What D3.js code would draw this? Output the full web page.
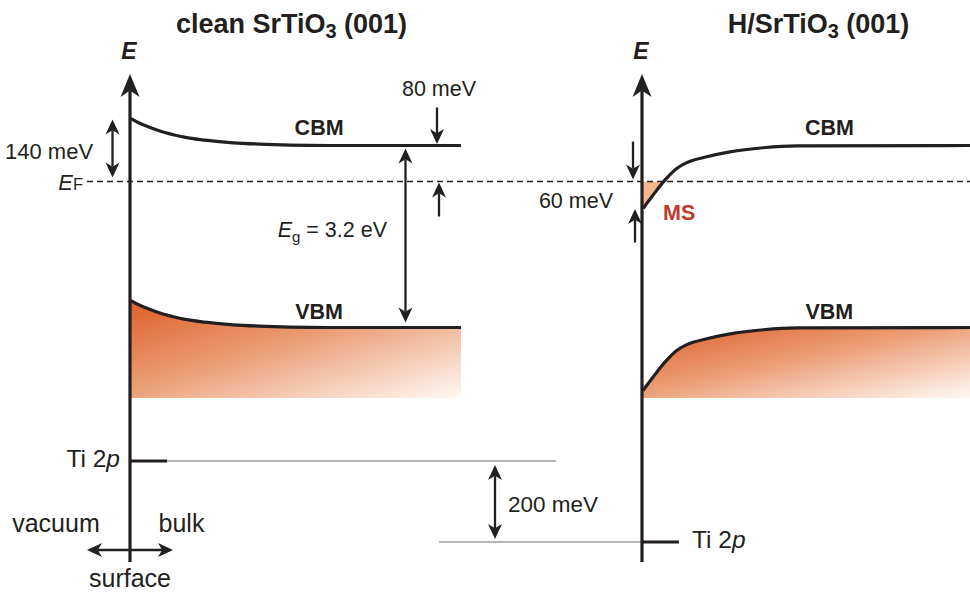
<!DOCTYPE html>
<html>
<head>
<meta charset="utf-8">
<script src="https://cdn.jsdelivr.net/npm/d3@7"></script>
<style>
  html, body { margin: 0; padding: 0; background: #fff; }
  svg { display: block; font-family: "Liberation Sans", Arial, Helvetica, sans-serif; }
</style>
</head>
<body>
<svg id="chart" width="970" height="592"></svg>
<script>
// ---- data -------------------------------------------------------------
// Panel titles, split so the "3" of the formula can be set as a subscript
const panelTitles = [["clean SrTiO", "3", " (001)"], ["H/SrTiO", "3", " (001)"]];

// Depth into the crystal (0 = surface, 1 = bulk end of the sketch)
const cleanDepth = [0, 0.025, 0.058, 0.09, 0.128, 0.165, 0.21, 0.26, 0.31, 0.41, 0.48, 0.6, 1];
// Conduction band minimum relative to E_F (meV), clean surface: upward bending
const cleanCBM = [140, 130, 120, 111.5, 104, 98, 93, 89, 86, 82.5, 81, 80, 80];

const hDepth = [0, 0.031, 0.067, 0.103, 0.134, 0.195, 0.266, 0.368, 0.47, 1];
// Conduction band minimum relative to E_F (meV), H-covered surface: downward bending
const hCBM = [-60, -30, 3, 29, 42, 55, 66, 75, 79, 80];

const bandGap = 3200;          // meV (E_g = 3.2 eV)
const ti2pShift = [0, -200];   // meV, Ti 2p core level: clean vs H-covered

// ---- layout -----------------------------------------------------------
const svg = d3.select("#chart");
const ink = "#231f20";

const xClean = d3.scaleLinear().domain([0, 1]).range([131, 461]);
const xH = d3.scaleLinear().domain([0, 1]).range([643, 970]);

// Conduction-band region of the energy axis
const yCB = d3.scaleLinear().domain([0, 140]).range([181.5, 118.5]);
// Valence-band region: same meV per pixel, axis broken across the gap
const vbmBulk = cleanCBM[cleanCBM.length - 1] - bandGap;
const yVB = d3.scaleLinear().domain([vbmBulk, vbmBulk + 140]).range([327.5, 264.5]);
// Core-level region
const yCore = d3.scaleLinear().domain([0, -200]).range([461, 542]);

const bandFloor = 398;   // lower edge of the shaded valence band
const axisTop = 74, axisBottom = 562;

const panels = [
  { x: xClean, depth: cleanDepth, cbm: cleanCBM, title: panelTitles[0], tcx: 291.5, gid: "vbClean" },
  { x: xH, depth: hDepth, cbm: hCBM, title: panelTitles[1], tcx: 818.5, gid: "vbH" }
];
panels.forEach(p => { p.pts = p.depth.map((d, i) => ({ d, e: p.cbm[i] })); });

// ---- gradients --------------------------------------------------------
const defs = svg.append("defs");
panels.forEach(p => {
  const g = defs.append("linearGradient").attr("id", p.gid)
    .attr("x1", 0).attr("y1", 0).attr("x2", 1).attr("y2", 1);
  g.append("stop").attr("offset", 0).attr("stop-color", "#df5f29");
  g.append("stop").attr("offset", 0.45).attr("stop-color", "#eb9d74");
  g.append("stop").attr("offset", 1).attr("stop-color", "#fff9f5");
});
defs.append("clipPath").attr("id", "belowEF")
  .append("rect").attr("x", 0).attr("y", yCB(0)).attr("width", 970).attr("height", 200);

// ---- arrows -----------------------------------------------------------
function arrow(x1, y1, x2, y2, o = {}) {
  const len = o.len || 15, half = o.half || 7, both = !!o.both, w = o.width || 2.3;
  const dx = x2 - x1, dy = y2 - y1, L = Math.hypot(dx, dy);
  const ux = dx / L, uy = dy / L, px = -uy, py = ux;
  const head = (tx, ty, vx, vy) =>
    `M${tx},${ty}L${tx - vx * len + px * half},${ty - vy * len + py * half}` +
    `L${tx - vx * len * 0.72},${ty - vy * len * 0.72}` +
    `L${tx - vx * len - px * half},${ty - vy * len - py * half}Z`;
  const g = svg.append("g");
  const sx = both ? x1 + ux * len * 0.72 : x1, sy = both ? y1 + uy * len * 0.72 : y1;
  g.append("line").attr("x1", sx).attr("y1", sy)
    .attr("x2", x2 - ux * len * 0.72).attr("y2", y2 - uy * len * 0.72)
    .attr("stroke", ink).attr("stroke-width", w);
  g.append("path").attr("d", head(x2, y2, ux, uy)).attr("fill", ink);
  if (both) g.append("path").attr("d", head(x1, y1, -ux, -uy)).attr("fill", ink);
  return g;
}

// ---- bands ------------------------------------------------------------
panels.forEach(p => {
  const cbLine = d3.line().x(d => p.x(d.d)).y(d => yCB(d.e)).curve(d3.curveMonotoneX);
  const vbLine = d3.line().x(d => p.x(d.d)).y(d => yVB(d.e - bandGap)).curve(d3.curveMonotoneX);
  const vbArea = d3.area().x(d => p.x(d.d)).y0(bandFloor).y1(d => yVB(d.e - bandGap))
    .curve(d3.curveMonotoneX);

  svg.append("path").datum(p.pts).attr("d", vbArea).attr("fill", `url(#${p.gid})`);

  // occupied part of the conduction band lying below E_F (metallic state)
  if (p.cbm[0] < 0) {
    const msArea = d3.area().x(d => p.x(d.d)).y0(yCB(0)).y1(d => yCB(d.e)).curve(d3.curveMonotoneX);
    svg.append("path").datum(p.pts.filter(d => d.d < 0.2)).attr("d", msArea)
      .attr("fill", "#f5b58f").attr("clip-path", "url(#belowEF)");
  }

  svg.append("path").datum(p.pts).attr("d", cbLine)
    .attr("fill", "none").attr("stroke", ink).attr("stroke-width", 3.2);
  svg.append("path").datum(p.pts).attr("d", vbLine)
    .attr("fill", "none").attr("stroke", ink).attr("stroke-width", 3.2);

  svg.append("text").attr("x", p.x(0.57)).attr("y", yCB(80) - 10.5)
    .attr("text-anchor", "middle").attr("font-size", 21.5).attr("font-weight", "bold")
    .attr("fill", ink).text("CBM");
  svg.append("text").attr("x", p.x(0.57)).attr("y", yVB(vbmBulk) - 8.5)
    .attr("text-anchor", "middle").attr("font-size", 21.5).attr("font-weight", "bold")
    .attr("fill", ink).text("VBM");

  // title
  const t = svg.append("text").attr("x", p.tcx).attr("y", 33).attr("text-anchor", "middle")
    .attr("font-size", 27).attr("font-weight", "bold").attr("fill", ink);
  t.append("tspan").text(p.title[0]);
  t.append("tspan").attr("font-size", 20).attr("dy", 5).text(p.title[1]);
  t.append("tspan").attr("dy", -5).text(p.title[2]);

  // energy axis label
  svg.append("text").attr("x", p.x(0) - 2).attr("y", 58.5).attr("text-anchor", "middle")
    .attr("font-size", 23).attr("font-weight", "bold").attr("font-style", "italic")
    .attr("fill", ink).text("E");
});

// Fermi level
svg.append("line").attr("x1", 87).attr("x2", 970).attr("y1", yCB(0)).attr("y2", yCB(0))
  .attr("stroke", ink).attr("stroke-width", 1.3).attr("stroke-dasharray", "6,4");
const ef = svg.append("text").attr("x", 83).attr("y", yCB(0) + 8).attr("text-anchor", "end")
  .attr("fill", ink).attr("font-size", 22);
ef.append("tspan").attr("font-style", "italic").text("E");
ef.append("tspan").attr("font-size", 16.5).text("F");

// ---- Ti 2p core levels ------------------------------------------------
const tiGuide = [[166, 556], [439, 643]];
panels.forEach((p, i) => {
  const y = yCore(ti2pShift[i]);
  svg.append("line").attr("x1", tiGuide[i][0]).attr("x2", tiGuide[i][1]).attr("y1", y).attr("y2", y)
    .attr("stroke", "#9c9c9c").attr("stroke-width", 1.6);
  svg.append("line").attr("x1", p.x(0)).attr("x2", p.x(0) + 36).attr("y1", y).attr("y2", y)
    .attr("stroke", ink).attr("stroke-width", 3.2);
  const lab = svg.append("text").attr("y", y + 5.5).attr("font-size", 24.5).attr("fill", ink)
    .attr("x", i === 0 ? p.x(0) - 11 : p.x(0) + 49).attr("text-anchor", i === 0 ? "end" : "start");
  lab.append("tspan").text("Ti 2");
  lab.append("tspan").attr("font-style", "italic").text("p");
});

// ---- energy axes ------------------------------------------------------
panels.forEach(p => {
  arrow(p.x(0) - 1, axisBottom, p.x(0) - 1, axisTop, { len: 23, half: 9.5, width: 3.2 });
});

// ---- annotations ------------------------------------------------------
function label(x, y, txt, anchor = "start", size = 21.5) {
  return svg.append("text").attr("x", x).attr("y", y).attr("text-anchor", anchor)
    .attr("font-size", size).attr("fill", ink).text(txt);
}

// band bending at the clean surface
arrow(112.5, yCB(cleanCBM[0]) + 1, 112.5, yCB(0) - 4, { both: true });
label(5, 159, "140 meV", "start", 22);

// CBM - E_F in the bulk
arrow(437, yCB(80) - 38, 437, yCB(80) - 1.5);
arrow(439, yCB(0) + 35, 439, yCB(0) + 1);
label(439, 96, "80 meV", "middle");

// band gap
arrow(405.5, yCB(80) + 3, 405.5, yVB(vbmBulk) - 5, { both: true });
const eg = svg.append("text").attr("x", 387).attr("y", 237).attr("text-anchor", "end")
  .attr("font-size", 21.5).attr("fill", ink);
eg.append("tspan").attr("font-style", "italic").text("E");
eg.append("tspan").attr("font-size", 15).attr("dy", 5).text("g");
eg.append("tspan").attr("dy", -5).text(" = 3.2 eV");

// band bending at the H-covered surface
arrow(633, yCB(0) - 40, 633, yCB(0) - 2);
arrow(635, yCB(hCBM[0]) + 34, 635, yCB(hCBM[0]) + 0.5);
label(613, 207.5, "60 meV", "end");
svg.append("text").attr("x", 663).attr("y", 219.5).attr("font-size", 21.5)
  .attr("font-weight", "bold").attr("fill", "#c1392b").text("MS");

// core-level shift
arrow(495, yCore(ti2pShift[0]) + 4, 495, yCore(ti2pShift[1]) - 3, { both: true });
label(508, 511.5, "200 meV", "start", 22.5);

// orientation of the depth axis
arrow(87, 550, 173, 550, { both: true });
label(56, 532, "vacuum", "middle", 25);
label(181.5, 532, "bulk", "middle", 25);
label(130, 587, "surface", "middle", 25);
</script>
</body>
</html>
